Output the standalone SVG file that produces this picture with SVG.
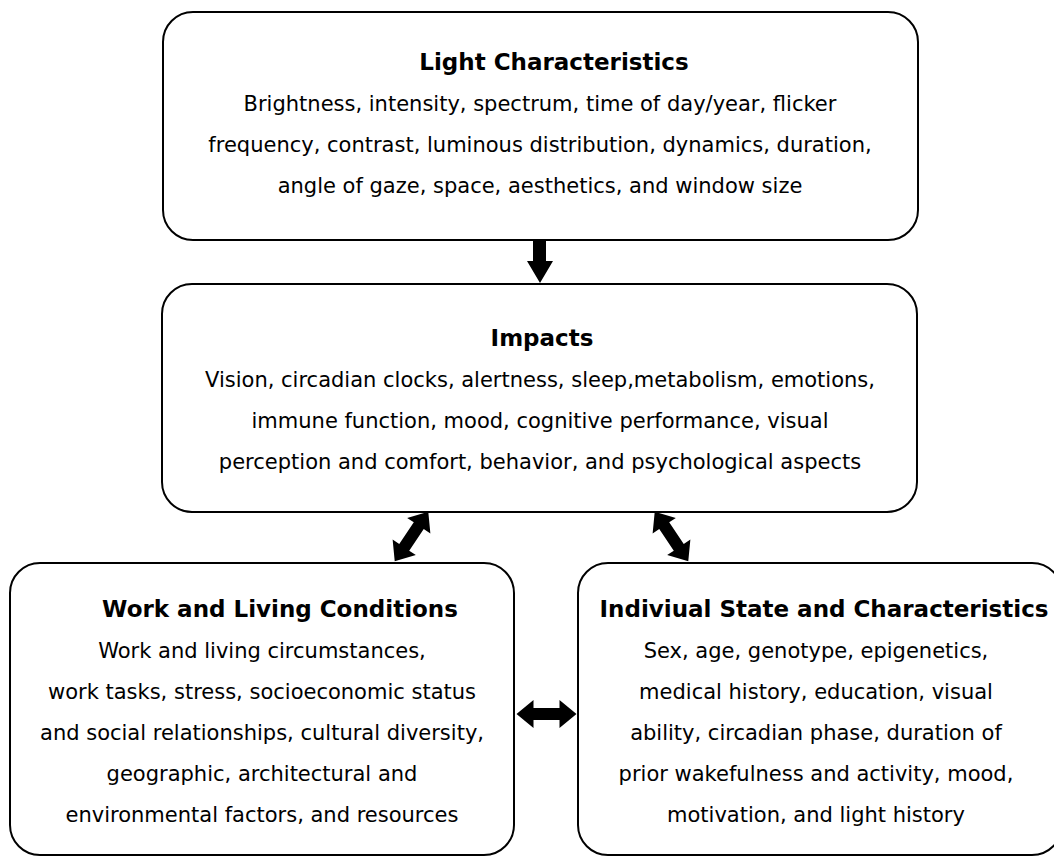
<svg xmlns="http://www.w3.org/2000/svg" width="1054" height="856" viewBox="0 0 1054 856">
<style>
.box{fill:#fff;stroke:#000;stroke-width:2}
text{font-family:"DejaVu Sans",Verdana,sans-serif;font-size:21px;fill:#000;text-anchor:middle}
.t{font-weight:bold;font-size:23px}
.arr{fill:#000;stroke:none}
</style>
<rect width="1054" height="856" fill="#fff"/>
<g id="light">
<rect class="box" x="163" y="12" width="755" height="228" rx="30"/>
<text class="t" x="554" y="70">Light Characteristics</text>
<text x="540" y="111">Brightness, intensity, spectrum, time of day/year, flicker</text>
<text x="540" y="152">frequency, contrast, luminous distribution, dynamics, duration,</text>
<text x="540" y="193">angle of gaze, space, aesthetics, and window size</text>
</g>
<g id="impacts">
<rect class="box" x="162" y="284" width="755" height="228" rx="30"/>
<text class="t" x="542" y="346">Impacts</text>
<text x="540" y="387">Vision, circadian clocks, alertness, sleep,metabolism, emotions,</text>
<text x="540" y="428">immune function, mood, cognitive performance, visual</text>
<text x="540" y="469">perception and comfort, behavior, and psychological aspects</text>
</g>
<g id="work">
<rect class="box" x="10" y="563" width="504" height="292" rx="30"/>
<text class="t" x="280" y="617">Work and Living Conditions</text>
<text x="262" y="658">Work and living circumstances,</text>
<text x="262" y="699">work tasks, stress, socioeconomic status</text>
<text x="262" y="740">and social relationships, cultural diversity,</text>
<text x="262" y="781">geographic, architectural and</text>
<text x="262" y="822">environmental factors, and resources</text>
</g>
<g id="individual">
<rect class="box" x="578" y="563" width="484" height="292" rx="30"/>
<text class="t" x="824" y="617">Indiviual State and Characteristics</text>
<text x="816" y="658">Sex, age, genotype, epigenetics,</text>
<text x="816" y="699">medical history, education, visual</text>
<text x="816" y="740">ability, circadian phase, duration of</text>
<text x="816" y="781">prior wakefulness and activity, mood,</text>
<text x="816" y="822">motivation, and light history</text>
</g>
<g id="connectors">
<polygon class="arr" points="533,240 546,240 546,261 553,261 540,283 527,261 533,261"/>
<path class="arr" d="M-30,0 L-13,-14 L-13,-6 L13,-6 L13,-14 L30,0 L13,14 L13,6 L-13,6 L-13,14 Z" transform="translate(411.5,536.5) rotate(-56)"/>
<path class="arr" d="M-30,0 L-13,-14 L-13,-6 L13,-6 L13,-14 L30,0 L13,14 L13,6 L-13,6 L-13,14 Z" transform="translate(671.5,536.5) rotate(56)"/>
<path class="arr" d="M-30,0 L-13,-14 L-13,-6 L13,-6 L13,-14 L30,0 L13,14 L13,6 L-13,6 L-13,14 Z" transform="translate(546.5,714)"/>
</g>
</svg>
